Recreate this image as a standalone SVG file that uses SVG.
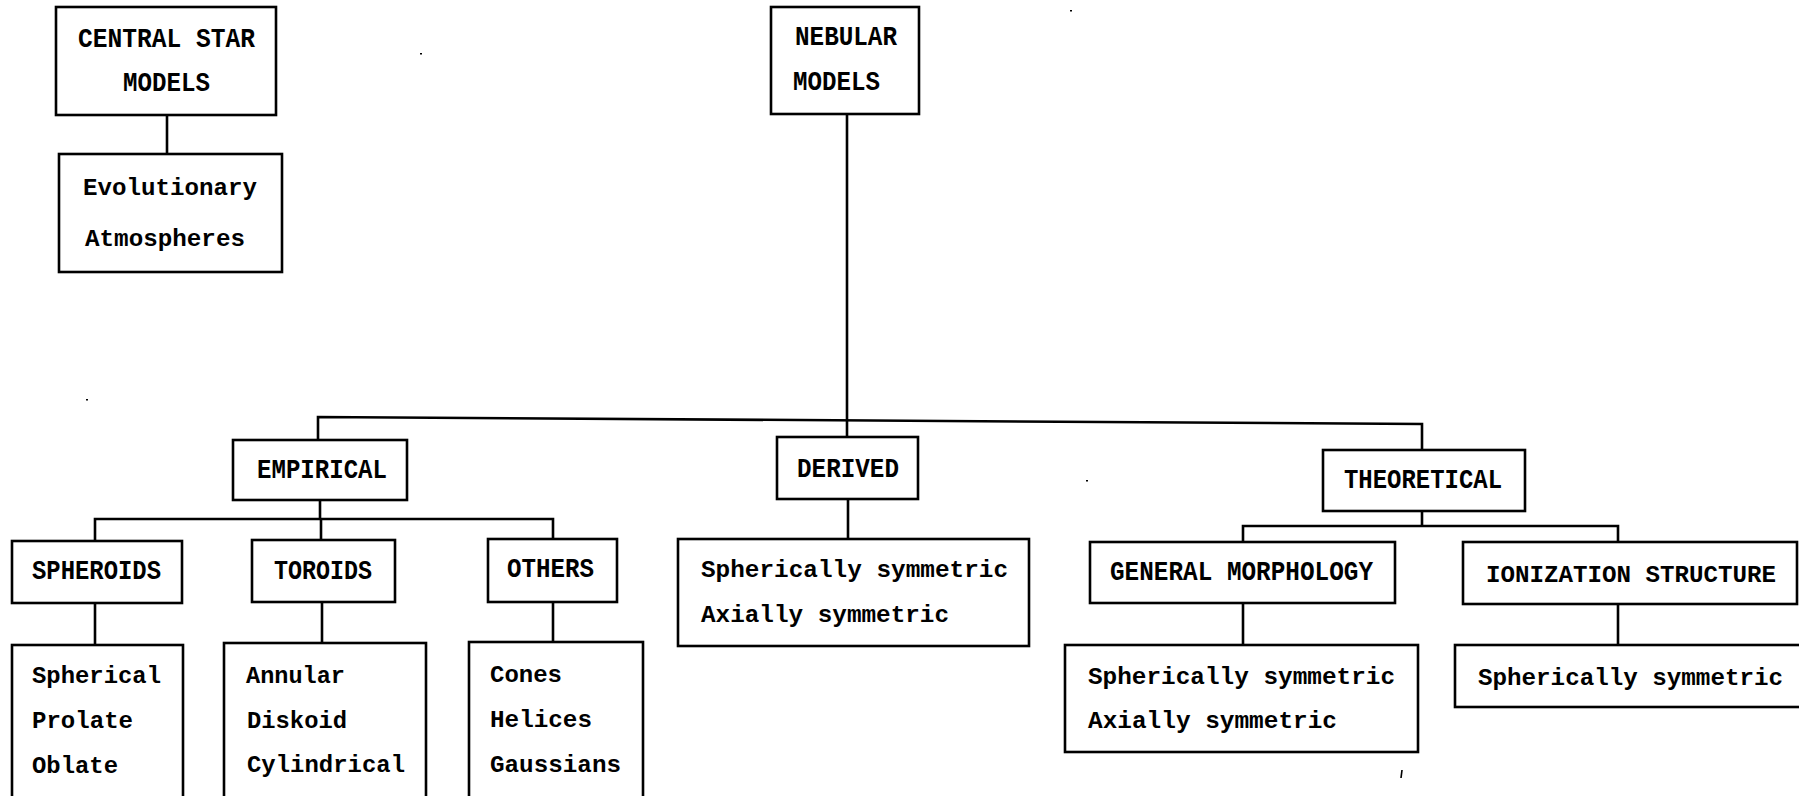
<svg xmlns="http://www.w3.org/2000/svg" width="1799" height="796" viewBox="0 0 1799 796">
<style>
  .box { fill: #ffffff; stroke: #000000; stroke-width: 2.6; }
  .cap { font-family: "Liberation Mono", "Courier New", monospace; font-weight: bold; font-size: 27px; fill: #000000; }
  .low { font-family: "Liberation Mono", "Courier New", monospace; font-weight: bold; font-size: 24px; fill: #000000; }
  .conn { fill: none; stroke: #000000; stroke-width: 2.6; }
</style>
<rect width="1799" height="796" fill="#ffffff"/>

<g id="connectors">
  <path class="conn" d="M167,115 V154"/>
  <path class="conn" d="M847,114 V437"/>
  <path class="conn" d="M318,440 V417 L1422,424 V450"/>
  <path class="conn" d="M320,500 V519"/>
  <path class="conn" d="M95,541 V519 H553 V539"/>
  <path class="conn" d="M321,519 V540"/>
  <path class="conn" d="M95,603 V645"/>
  <path class="conn" d="M322,602 V643"/>
  <path class="conn" d="M553,602 V642"/>
  <path class="conn" d="M848,499 V539"/>
  <path class="conn" d="M1422,511 V526"/>
  <path class="conn" d="M1243,542 V526 H1618 V542"/>
  <path class="conn" d="M1243,603 V645"/>
  <path class="conn" d="M1618,604 V645"/>
</g>

<g id="central-star">
  <rect class="box" x="56" y="7" width="220" height="108"/>
  <text class="cap" x="78" y="47" textLength="177" lengthAdjust="spacingAndGlyphs">CENTRAL STAR</text>
  <text class="cap" x="123" y="91" textLength="87" lengthAdjust="spacingAndGlyphs">MODELS</text>
</g>

<g id="evolutionary">
  <rect class="box" x="59" y="154" width="223" height="118"/>
  <text class="low" x="83" y="195" textLength="174" lengthAdjust="spacingAndGlyphs">Evolutionary</text>
  <text class="low" x="85" y="246" textLength="160" lengthAdjust="spacingAndGlyphs">Atmospheres</text>
</g>

<g id="nebular">
  <rect class="box" x="771" y="7" width="148" height="107"/>
  <text class="cap" x="795" y="45" textLength="102" lengthAdjust="spacingAndGlyphs">NEBULAR</text>
  <text class="cap" x="793" y="90" textLength="87" lengthAdjust="spacingAndGlyphs">MODELS</text>
</g>

<g id="empirical">
  <rect class="box" x="233" y="440" width="174" height="60"/>
  <text class="cap" x="257" y="478" textLength="130" lengthAdjust="spacingAndGlyphs">EMPIRICAL</text>
</g>

<g id="derived">
  <rect class="box" x="777" y="437" width="141" height="62"/>
  <text class="cap" x="797" y="477" textLength="102" lengthAdjust="spacingAndGlyphs">DERIVED</text>
</g>

<g id="theoretical">
  <rect class="box" x="1323" y="450" width="202" height="61"/>
  <text class="cap" x="1344" y="488" textLength="158" lengthAdjust="spacingAndGlyphs">THEORETICAL</text>
</g>

<g id="spheroids">
  <rect class="box" x="12" y="541" width="170" height="62"/>
  <text class="cap" x="32" y="579" textLength="129" lengthAdjust="spacingAndGlyphs">SPHEROIDS</text>
</g>

<g id="toroids">
  <rect class="box" x="252" y="540" width="143" height="62"/>
  <text class="cap" x="274" y="579" textLength="98" lengthAdjust="spacingAndGlyphs">TOROIDS</text>
</g>

<g id="others">
  <rect class="box" x="488" y="539" width="129" height="63"/>
  <text class="cap" x="507" y="577" textLength="87" lengthAdjust="spacingAndGlyphs">OTHERS</text>
</g>

<g id="spheroid-types">
  <rect class="box" x="12" y="645" width="171" height="160"/>
  <text class="low" x="32" y="683" textLength="129" lengthAdjust="spacingAndGlyphs">Spherical</text>
  <text class="low" x="32" y="728" textLength="101" lengthAdjust="spacingAndGlyphs">Prolate</text>
  <text class="low" x="32" y="773" textLength="86" lengthAdjust="spacingAndGlyphs">Oblate</text>
</g>

<g id="toroid-types">
  <rect class="box" x="224" y="643" width="202" height="162"/>
  <text class="low" x="246" y="683" textLength="99" lengthAdjust="spacingAndGlyphs">Annular</text>
  <text class="low" x="247" y="728" textLength="100" lengthAdjust="spacingAndGlyphs">Diskoid</text>
  <text class="low" x="247" y="772" textLength="158" lengthAdjust="spacingAndGlyphs">Cylindrical</text>
</g>

<g id="other-types">
  <rect class="box" x="469" y="642" width="174" height="163"/>
  <text class="low" x="490" y="682" textLength="72" lengthAdjust="spacingAndGlyphs">Cones</text>
  <text class="low" x="490" y="727" textLength="102" lengthAdjust="spacingAndGlyphs">Helices</text>
  <text class="low" x="490" y="772" textLength="131" lengthAdjust="spacingAndGlyphs">Gaussians</text>
</g>

<g id="derived-types">
  <rect class="box" x="678" y="539" width="351" height="107"/>
  <text class="low" x="701" y="577" textLength="307" lengthAdjust="spacingAndGlyphs">Spherically symmetric</text>
  <text class="low" x="701" y="622" textLength="248" lengthAdjust="spacingAndGlyphs">Axially symmetric</text>
</g>

<g id="general-morphology">
  <rect class="box" x="1090" y="542" width="305" height="61"/>
  <text class="cap" x="1110" y="580" textLength="263" lengthAdjust="spacingAndGlyphs">GENERAL MORPHOLOGY</text>
</g>

<g id="ionization-structure">
  <rect class="box" x="1463" y="542" width="334" height="62"/>
  <text class="cap" x="1486" y="582" style="font-size:24.5px" textLength="290" lengthAdjust="spacingAndGlyphs">IONIZATION STRUCTURE</text>
</g>

<g id="morphology-types">
  <rect class="box" x="1065" y="645" width="353" height="107"/>
  <text class="low" x="1088" y="684" textLength="307" lengthAdjust="spacingAndGlyphs">Spherically symmetric</text>
  <text class="low" x="1088" y="728" textLength="249" lengthAdjust="spacingAndGlyphs">Axially symmetric</text>
</g>

<g id="ionization-types">
  <rect class="box" x="1455" y="645" width="350" height="62"/>
  <text class="low" x="1478" y="685" textLength="305" lengthAdjust="spacingAndGlyphs">Spherically symmetric</text>
</g>

<g id="specks" fill="#000000">
  <rect x="420" y="53" width="2" height="1.5"/>
  <rect x="1086" y="480" width="2" height="1.5"/>
  <rect x="1070" y="10" width="2" height="1.5"/>
  <rect x="86" y="399" width="2" height="1.5"/>
  <path d="M1402,770 L1401,778" stroke="#000000" stroke-width="1.6"/>
</g>
</svg>
